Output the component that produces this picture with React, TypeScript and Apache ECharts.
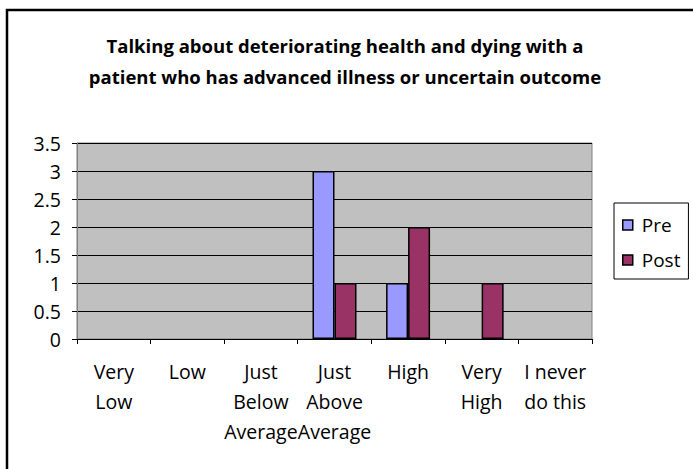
import React, { useEffect, useRef } from "react";
import * as echarts from "echarts";

const categories = [
  "Very\nLow",
  "Low",
  "Just\nBelow\nAverage",
  "Just\nAbove\nAverage",
  "High",
  "Very\nHigh",
  "I never\ndo this",
];
const preValues = [0, 0, 0, 3, 1, 0, 0];
const postValues = [0, 0, 0, 1, 2, 1, 0];
const seriesNames = ["Pre", "Post"];
const titleLines = [
  "Talking about deteriorating health and dying with a",
  "patient who has advanced illness or uncertain outcome",
];

const FONT = "'Open Sans', 'Noto Sans', sans-serif";

// Excel hides zero-height columns; keep the values, skip drawing empty bars
const toBarData = (vals: number[]) => vals.map((v) => (v === 0 ? null : v));

export default function App() {
  const ref = useRef<HTMLDivElement>(null);
  useEffect(() => {
    if (!ref.current) return;
    const chart = echarts.init(ref.current, undefined, { renderer: "svg" });
    const barStyle = (color: string) => ({
      color,
      borderColor: "#000000",
      borderWidth: 1.5,
    });
    chart.setOption({
      animation: false,
      backgroundColor: "#ffffff",
      textStyle: { fontFamily: FONT },
      title: {
        text: titleLines.join("\n"),
        left: 340,
        textAlign: "center",
        top: 25,
        textStyle: {
          fontFamily: FONT,
          fontSize: 18.5,
          fontWeight: "bold",
          color: "#000",
          lineHeight: 31,
        },
      },
      graphic: [
        {
          type: "rect",
          shape: { x: 7, y: 10, width: 720, height: 520 },
          style: { fill: "none", stroke: "#000", lineWidth: 2.5 },
          silent: true,
          z: 100,
        },
      ],
      legend: {
        orient: "vertical",
        left: 614,
        top: 203,
        padding: [12, 8, 9, 8],
        itemWidth: 10,
        itemHeight: 10,
        itemGap: 15,
        icon: "rect",
        borderColor: "#000",
        borderWidth: 1,
        backgroundColor: "#fff",
        itemStyle: { borderColor: "#000", borderWidth: 1.5 },
        textStyle: {
          fontFamily: FONT,
          fontSize: 19,
          color: "#000",
          lineHeight: 20,
          padding: [0, 0, 0, 4],
        },
        data: seriesNames,
      },
      grid: {
        left: 77,
        top: 143,
        right: 101,
        bottom: 130,
        show: true,
        backgroundColor: "#C0C0C0",
        borderColor: "#808080",
        borderWidth: 1,
      },
      xAxis: {
        type: "category",
        data: categories,
        axisLine: { show: true, lineStyle: { color: "#000", width: 1 } },
        axisTick: { show: true, length: 5, lineStyle: { color: "#000" } },
        axisLabel: {
          interval: 0,
          color: "#000",
          fontFamily: FONT,
          fontSize: 19.5,
          lineHeight: 30,
          margin: 17,
        },
      },
      yAxis: {
        type: "value",
        min: 0,
        max: 3.5,
        interval: 0.5,
        axisLine: { show: true, lineStyle: { color: "#808080", width: 1 } },
        axisTick: { show: true, length: 5, lineStyle: { color: "#000" } },
        splitLine: { show: true, lineStyle: { color: "#000", width: 1 } },
        axisLabel: {
          color: "#000",
          fontFamily: FONT,
          fontSize: 19.5,
          margin: 16,
        },
      },
      series: [
        {
          name: seriesNames[0],
          type: "bar",
          data: toBarData(preValues),
          barWidth: 22,
          barGap: "0%",
          itemStyle: barStyle("#9999FF"),
        },
        {
          name: seriesNames[1],
          type: "bar",
          data: toBarData(postValues),
          barWidth: 22,
          barGap: "0%",
          itemStyle: barStyle("#993366"),
        },
      ],
    });
    return () => chart.dispose();
  }, []);
  return (
    <div
      ref={ref}
      style={{ position: "absolute", left: 0, top: 0, width: 693, height: 469 }}
    />
  );
}
